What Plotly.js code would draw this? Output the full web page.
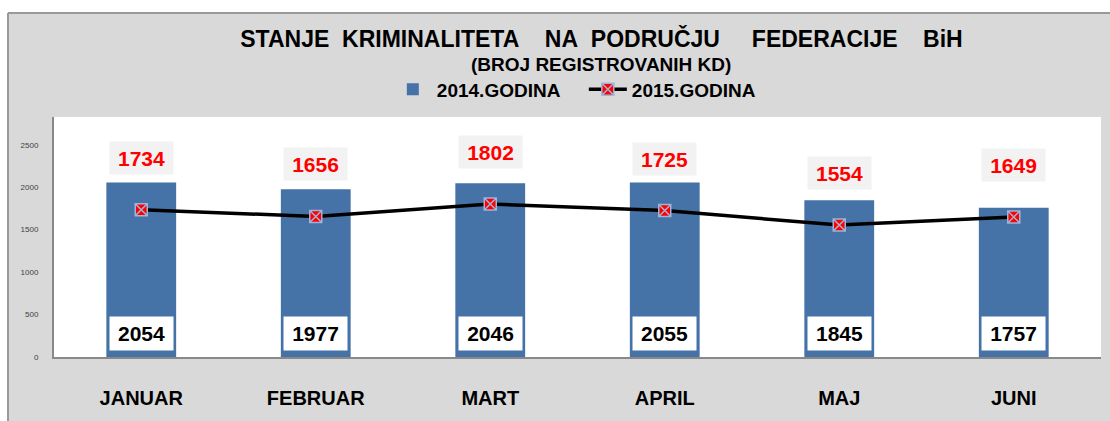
<!DOCTYPE html>
<html>
<head>
<meta charset="utf-8">
<script src="https://cdn.plot.ly/plotly-3.0.1.min.js"></script>
<style>html,body{margin:0;padding:0;background:#fff;}#chart{width:1110px;height:421px;}</style>
</head>
<body>
<div id="chart"></div>
<script>
const months = ["JANUAR", "FEBRUAR", "MART", "APRIL", "MAJ", "JUNI"];
const values2014 = [2054, 1977, 2046, 2055, 1845, 1757];
const values2015 = [1734, 1656, 1802, 1725, 1554, 1649];
const yTicks = [0, 500, 1000, 1500, 2000, 2500];
const seriesNames = ["2014.GODINA", "2015.GODINA"];
const titleWords = ["STANJE", "KRIMINALITETA", "NA", "PODRUČJU", "FEDERACIJE", "BiH"];
const subtitleText = "(BROJ REGISTROVANIH KD)";

const FONT = "Liberation Sans, Arial, sans-serif";
const sp = n => "\u00A0".repeat(n);
const titleText = titleWords[0] + sp(2) + titleWords[1] + sp(4) + titleWords[2] + sp(2) +
                  titleWords[3] + sp(5) + titleWords[4] + sp(4) + titleWords[5];

const traces = [
  {
    type: "bar",
    name: seriesNames[0],
    x: months,
    y: values2014,
    width: 0.4,
    marker: { color: "#4572A7" },
    hoverinfo: "x+y"
  },
  {
    type: "scatter",
    mode: "lines+markers",
    name: seriesNames[1],
    x: months,
    y: values2015,
    line: { color: "#000000", width: 3.5 },
    marker: { symbol: "square-x", size: 12, color: "#ff0000", line: { color: "#9fb4d8", width: 1.5 } },
    hoverinfo: "x+y"
  }
];

const annotations = [];
months.forEach((m, i) => {
  annotations.push({
    x: m, y: values2015[i], xref: "x", yref: "y",
    text: String(values2015[i]), showarrow: false,
    yshift: 52, bgcolor: "#f2f2f2", width: 57, height: 26, borderpad: 3,
    font: { family: FONT, size: 21, color: "#ff0000", weight: "bold" }
  });
  annotations.push({
    x: m, y: 0, xref: "x", yref: "y", yanchor: "bottom",
    text: String(values2014[i]), showarrow: false,
    yshift: 6, bgcolor: "#ffffff", width: 57, height: 27, borderpad: 3,
    font: { family: FONT, size: 21, color: "#000000", weight: "bold" }
  });
});
annotations.push({
  x: 0.522, xref: "paper", xanchor: "center",
  y: 1.217, yref: "paper", yanchor: "middle",
  text: subtitleText, showarrow: false,
  font: { family: FONT, size: 19, color: "#000", weight: "bold" }
});

const layout = {
  width: 1110,
  height: 421,
  margin: { l: 54, r: 9, t: 117, b: 64 },
  paper_bgcolor: "#d9d9d9",
  plot_bgcolor: "#ffffff",
  showlegend: true,
  title: {
    text: titleText,
    x: 0.5419, xref: "container", xanchor: "center",
    y: 0.908, yref: "container", yanchor: "middle",
    font: { family: FONT, size: 23, color: "#000", weight: "bold" }
  },
  legend: {
    orientation: "h",
    x: 0.3198, xanchor: "left",
    y: 1.115, yanchor: "middle",
    bgcolor: "rgba(0,0,0,0)",
    itemwidth: 38,
    entrywidth: 142,
    font: { family: FONT, size: 19, color: "#000", weight: "bold" }
  },
  xaxis: {
    type: "category",
    range: [-0.5, 5.5],
    showline: true, linecolor: "#898989", linewidth: 2,
    showgrid: false, zeroline: false,
    ticks: "outside", ticklen: 22, tickcolor: "rgba(0,0,0,0)",
    tickfont: { family: FONT, size: 20, color: "#000", weight: "bold" },
    fixedrange: true
  },
  yaxis: {
    range: [0, 2827],
    tickvals: yTicks,
    ticktext: yTicks.map(String),
    showline: true, linecolor: "#898989", linewidth: 2,
    showgrid: false, zeroline: false,
    ticks: "outside", ticklen: 12, tickcolor: "rgba(0,0,0,0)",
    tickfont: { family: FONT, size: 8, color: "#404040" },
    fixedrange: true
  },
  annotations: annotations,
  shapes: [
    { type: "rect", xref: "paper", yref: "paper", x0: -0.1, x1: 1.1, y0: 1.4333, y1: 1.6, fillcolor: "#ffffff", line: { width: 0 }, layer: "below" },
    { type: "rect", xref: "paper", yref: "paper", x0: -0.1, x1: -0.04394, y0: -0.5, y1: 1.6, fillcolor: "#ffffff", line: { width: 0 }, layer: "below" },
    { type: "line", xref: "paper", yref: "paper", x0: -0.04394, x1: 1.1, y0: 1.4333, y1: 1.4333, line: { color: "#999999", width: 2 } },
    { type: "line", xref: "paper", yref: "paper", x0: -0.04394, x1: -0.04394, y0: -0.5, y1: 1.4333, line: { color: "#999999", width: 2 } }
  ]
};

Plotly.newPlot("chart", traces, layout, { displayModeBar: false, staticPlot: true });
</script>
</body>
</html>
